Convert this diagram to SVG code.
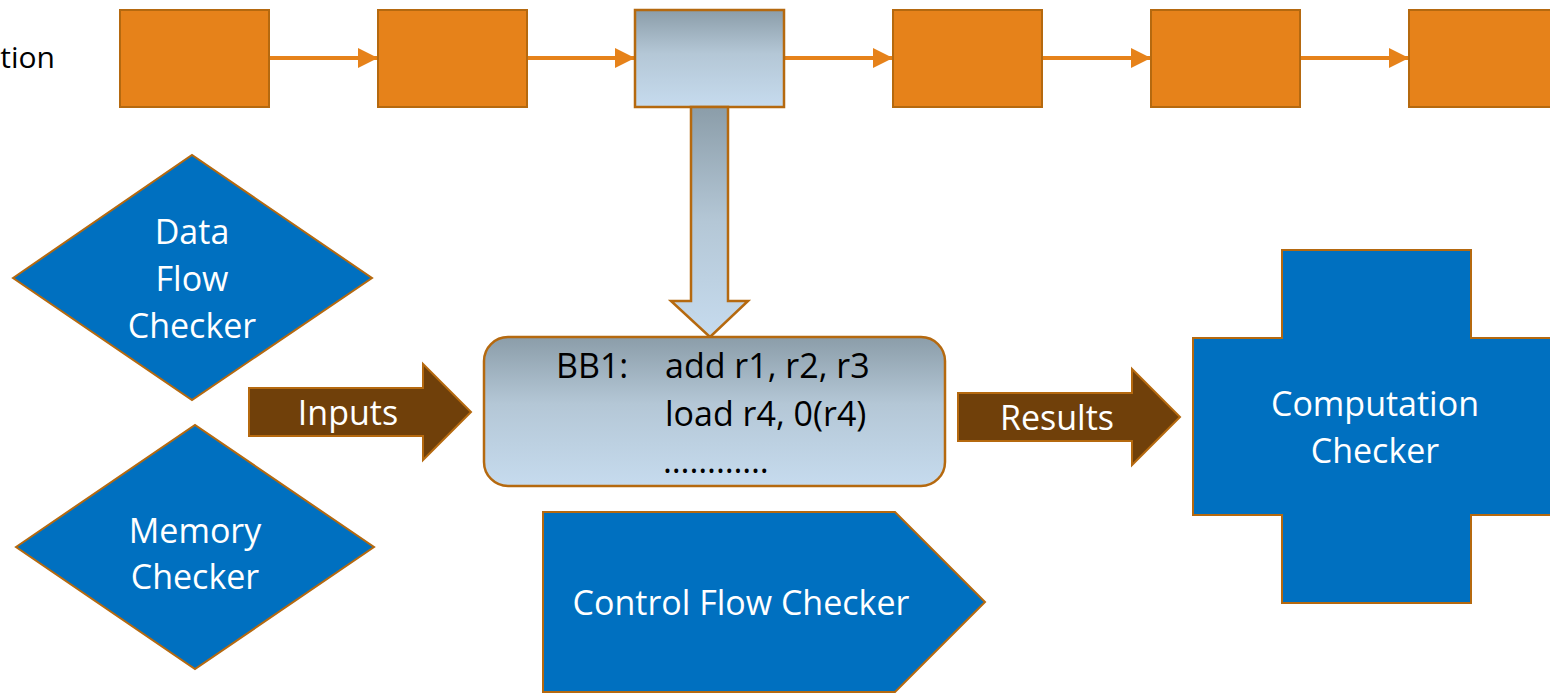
<svg xmlns="http://www.w3.org/2000/svg" width="1550" height="693" viewBox="0 0 1550 693">
  <style>
    .step { fill: #e6821a; stroke: #b5690f; stroke-width: 2; }
    .steel { stroke: #b5690f; stroke-width: 2.5; }
    .checker { fill: #0070c0; stroke: #b5690f; stroke-width: 2; }
    .flow { fill: #70400a; stroke: #b5690f; stroke-width: 2; }
    .link { stroke: #e6821a; stroke-width: 4; fill: none; marker-end: url(#head); }
    .lbl { font-family: "Open Sans", "Noto Sans", sans-serif; font-size: 34px; fill: #ffffff; text-anchor: middle; }
    .code { font-family: "Open Sans", "Noto Sans", sans-serif; font-size: 34px; fill: #000000; }
  </style>
  <defs>
    <marker id="head" viewBox="0 0 10 10" refX="10" refY="5" markerWidth="5" markerHeight="5" markerUnits="strokeWidth" orient="auto">
      <path d="M0,0 L10,5 L0,10 Z" fill="#e6821a"/>
    </marker>
    <linearGradient id="steelGrad" x1="0" y1="0" x2="0" y2="1">
      <stop offset="0" stop-color="#8b9da9"/>
      <stop offset="0.45" stop-color="#b4c7d6"/>
      <stop offset="1" stop-color="#c6dbee"/>
    </linearGradient>
    <linearGradient id="shaftGrad" gradientUnits="userSpaceOnUse" x1="0" y1="107" x2="0" y2="337">
      <stop offset="0" stop-color="#8b9da9"/>
      <stop offset="0.5" stop-color="#b4c7d6"/>
      <stop offset="1" stop-color="#c6dbee"/>
    </linearGradient>
  </defs>

  <!-- partially visible row label -->
  <text x="55" y="68" font-family="Open Sans, Noto Sans, sans-serif" font-size="30" fill="#000" text-anchor="end">tion</text>

  <!-- connectors between the block chain -->
  <g id="connectors">
    <line class="link" x1="269" y1="58" x2="378" y2="58"/>
    <line class="link" x1="527" y1="58" x2="635" y2="58"/>
    <line class="link" x1="784" y1="58" x2="893" y2="58"/>
    <line class="link" x1="1042" y1="58" x2="1151" y2="58"/>
    <line class="link" x1="1300" y1="58" x2="1409" y2="58"/>
  </g>

  <!-- block chain -->
  <g id="block1"><rect class="step" x="120" y="10" width="149" height="97"/></g>
  <g id="block2"><rect class="step" x="378" y="10" width="149" height="97"/></g>
  <g id="block3"><rect class="steel" fill="url(#steelGrad)" x="635" y="10" width="149" height="97"/></g>
  <g id="block4"><rect class="step" x="893" y="10" width="149" height="97"/></g>
  <g id="block5"><rect class="step" x="1151" y="10" width="149" height="97"/></g>
  <g id="block6"><rect class="step" x="1409" y="10" width="149" height="97"/></g>

  <!-- zoom arrow from the selected block -->
  <g id="zoom-arrow">
    <path class="steel" fill="url(#shaftGrad)" d="M691,107 L728,107 L728,301 L748,301 L710,337 L671,301 L691,301 Z"/>
  </g>

  <!-- basic block -->
  <g id="bb1">
    <rect class="steel" fill="url(#steelGrad)" x="484" y="337" width="461" height="149" rx="24" ry="24"/>
    <text class="code" x="556" y="378">BB1:</text>
    <text class="code" x="665" y="378">add r1, r2, r3</text>
    <text class="code" x="665" y="426">load r4, 0(r4)</text>
    <text class="code" x="663" y="473">…………</text>
  </g>

  <!-- data flow checker -->
  <g id="data-flow-checker">
    <polygon class="checker" points="13,278 192,155 372,278 192,400"/>
    <text class="lbl" x="192" y="244">Data</text>
    <text class="lbl" x="192" y="291">Flow</text>
    <text class="lbl" x="192" y="338">Checker</text>
  </g>

  <!-- memory checker -->
  <g id="memory-checker">
    <polygon class="checker" points="16,547 195,425 374,547 195,669"/>
    <text class="lbl" x="195" y="543">Memory</text>
    <text class="lbl" x="195" y="589">Checker</text>
  </g>

  <!-- inputs arrow -->
  <g id="inputs">
    <path class="flow" d="M249,388 L423,388 L423,364 L471,412 L423,460 L423,436 L249,436 Z"/>
    <text class="lbl" x="348" y="425">Inputs</text>
  </g>

  <!-- results arrow -->
  <g id="results">
    <path class="flow" d="M958,393 L1132,393 L1132,369 L1180,417 L1132,465 L1132,441 L958,441 Z"/>
    <text class="lbl" x="1057" y="430">Results</text>
  </g>

  <!-- computation checker -->
  <g id="computation-checker">
    <path class="checker" d="M1282,250 L1471,250 L1471,338 L1560,338 L1560,515 L1471,515 L1471,603 L1282,603 L1282,515 L1193,515 L1193,338 L1282,338 Z"/>
    <text class="lbl" x="1375" y="416">Computation</text>
    <text class="lbl" x="1375" y="463">Checker</text>
  </g>

  <!-- control flow checker -->
  <g id="control-flow-checker">
    <path class="checker" d="M543,512 L895,512 L985,602 L895,692 L543,692 Z"/>
    <text class="lbl" x="741" y="615">Control Flow Checker</text>
  </g>
</svg>
